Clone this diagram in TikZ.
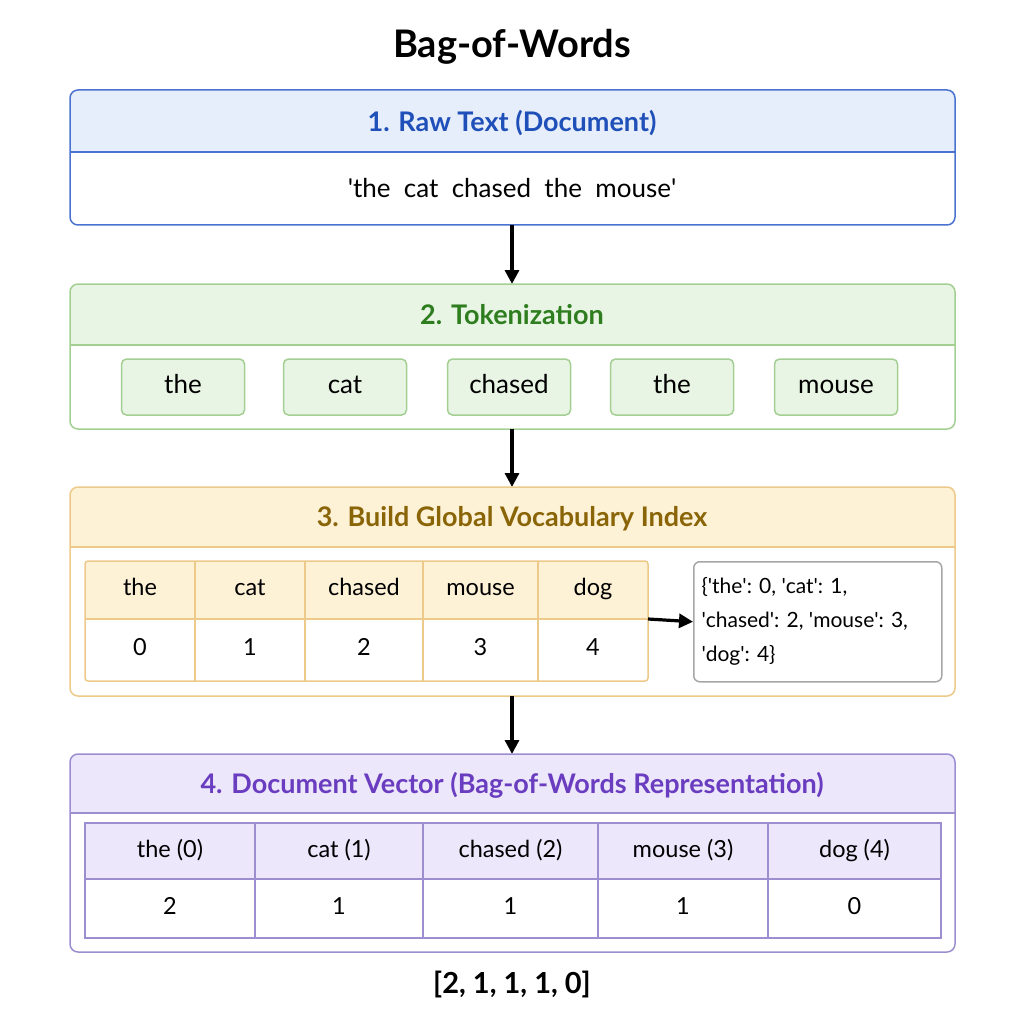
\documentclass[tikz,border=0pt]{standalone}
\usepackage{fontspec}
\setmainfont{Lato}
\usetikzlibrary{arrows.meta}
\definecolor{bF}{HTML}{E6EEFB}\definecolor{bD}{HTML}{4A72D0}\definecolor{bT}{HTML}{1F4FB8}
\definecolor{gF}{HTML}{E9F5E4}\definecolor{gD}{HTML}{A3CF93}\definecolor{gT}{HTML}{2E7D1F}
\definecolor{oF}{HTML}{FDF1D6}\definecolor{oD}{HTML}{EDC98A}\definecolor{oT}{HTML}{8A6508}
\definecolor{pF}{HTML}{ECE7FA}\definecolor{pD}{HTML}{9C8ED0}\definecolor{pT}{HTML}{6A3DC0}
\newcommand{\q}{\textquotesingle}
\begin{document}
\begin{tikzpicture}[x=1pt,y=-1pt,
  hdr/.style={font=\fontsize{27}{32}\selectfont\bfseries,anchor=center},
  txt/.style={font=\fontsize{26}{30}\selectfont,anchor=center},
  cell/.style={font=\fontsize{23.5}{28}\selectfont,anchor=center,text height=16pt,text depth=5pt},
  arr/.style={-{Triangle[length=14pt,width=14pt]},line width=3.2pt},
  tok/.style={draw=gD,fill=gF,line width=1.5pt,rounded corners=5pt,minimum width=123pt,minimum height=56pt,font=\fontsize{26}{30}\selectfont,text height=18pt,text depth=6pt}]
\useasboundingbox (0,0) rectangle (1024,1024);
\node[font=\fontsize{38}{44}\selectfont\bfseries] (title) at (512,47) {Bag-of-Words};
% box 1
\begin{scope}
\clip[rounded corners=8pt] (70,90) rectangle (955,225);
\fill[bF] (70,90) rectangle (955,152);
\end{scope}
\draw[bD,line width=1.5pt] (70,152) -- (955,152);
\draw[bD,line width=1.5pt,rounded corners=8pt] (70,90) rectangle (955,225);
\node[hdr,text=bT] (h1) at (512,123) {1. Raw Text (Document)};
\node[txt] (raw) at (512,188) {\q the\ \ cat\ \ chased\ \ the\ \ mouse\q};
\coordinate (b1) at (512,225);\coordinate (t2) at (512,284);
\draw[arr] (b1) -- (t2);
% box 2
\begin{scope}
\clip[rounded corners=8pt] (70,284) rectangle (955,429);
\fill[gF] (70,284) rectangle (955,345);
\end{scope}
\draw[gD,line width=1.5pt] (70,345) -- (955,345);
\draw[gD,line width=1.5pt,rounded corners=8pt] (70,284) rectangle (955,429);
\node[hdr,text=gT] (h2) at (512,315) {2. Tokenization};
\node[tok] (k1) at (183,387) {the};
\node[tok] (k2) at (345,387) {cat};
\node[tok] (k3) at (509,387) {chased};
\node[tok] (k4) at (672,387) {the};
\node[tok] (k5) at (836,387) {mouse};
\coordinate (b2) at (512,429);\coordinate (t3) at (512,487);
\draw[arr] (b2) -- (t3);
% box 3
\begin{scope}
\clip[rounded corners=8pt] (70,487) rectangle (955,696);
\fill[oF] (70,487) rectangle (955,547);
\end{scope}
\draw[oD,line width=1.5pt] (70,547) -- (955,547);
\draw[oD,line width=1.5pt,rounded corners=8pt] (70,487) rectangle (955,696);
\node[hdr,text=oT] (h3) at (512,519) {3. Build Global Vocabulary Index};
\fill[oF] (85,561) rectangle (648,619);
\draw[oD,line width=1.5pt] (85,619) -- (648,619);
\foreach \x in {195,305,423,538} \draw[oD,line width=1.5pt] (\x,561) -- (\x,681);
\draw[oD,line width=1.5pt,rounded corners=3pt] (85,561) rectangle (648,681);
\foreach \a/\b/\w/\n [count=\i] in {85/195/the/0,195/305/cat/1,305/423/chased/2,423/538/mouse/3,538/648/dog/4}{
  \node[cell] (v\i) at ({(\a+\b)/2},590) {\w};
  \node[cell] (n\i) at ({(\a+\b)/2},650) {\n};}
\node[draw=gray!70,line width=1.5pt,rounded corners=6pt,minimum width=248pt,minimum height=120pt,anchor=north west,inner sep=0pt] (dict) at (693,561) {};
\node[font=\fontsize{21}{34}\selectfont,align=left,anchor=west] (dtxt) at (698,621) {\{\q the\q: 0, \q cat\q: 1,\\\q chased\q: 2, \q mouse\q: 3,\\\q dog\q: 4\}};
\coordinate (tr) at (648,619);
\draw[arr] (tr) -- (dict.west);
\coordinate (b3) at (512,696);\coordinate (t4) at (512,754);
\draw[arr] (b3) -- (t4);
% box 4
\begin{scope}
\clip[rounded corners=8pt] (70,754) rectangle (955,952);
\fill[pF] (70,754) rectangle (955,813);
\end{scope}
\draw[pD,line width=1.5pt] (70,813) -- (955,813);
\draw[pD,line width=1.5pt,rounded corners=8pt] (70,754) rectangle (955,952);
\node[hdr,text=pT] (h4) at (512,785) {4. Document Vector (Bag-of-Words Representation)};
\fill[pF] (85,823) rectangle (941,879);
\draw[pD,line width=1.5pt] (85,879) -- (941,879);
\foreach \x in {255,423,598,768} \draw[pD,line width=1.5pt] (\x,823) -- (\x,938);
\draw[pD,line width=1.5pt] (85,823) rectangle (941,938);
\foreach \a/\b/\w/\n [count=\i] in {85/255/the (0)/2,255/423/cat (1)/1,423/598/chased (2)/1,598/768/mouse (3)/1,768/941/dog (4)/0}{
  \node[cell] (p\i) at ({(\a+\b)/2},852) {\w};
  \node[cell] (q\i) at ({(\a+\b)/2},909) {\n};}
\node[font=\fontsize{29}{34}\selectfont\bfseries] (res) at (512,985) {[2, 1, 1, 1, 0]};
\end{tikzpicture}
\end{document}
